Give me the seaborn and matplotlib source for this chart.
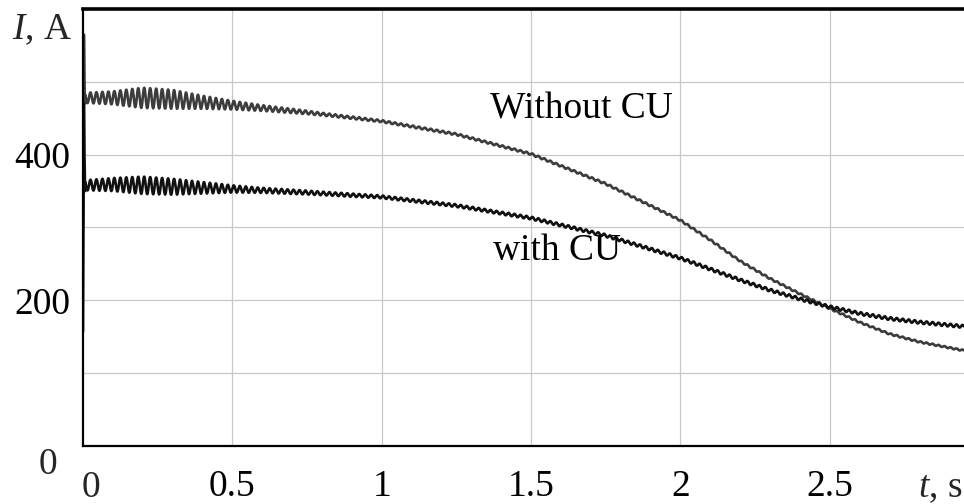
import numpy as np
import pandas as pd
import matplotlib
matplotlib.use("Agg")
import matplotlib.pyplot as plt
import seaborn as sns

# ---- values ----
knot_t = [0.008, 0.1, 0.2, 0.3, 0.5, 0.75, 1.0, 1.25, 1.5, 1.75, 2.0, 2.1, 2.2, 2.3, 2.4, 2.5, 2.6, 2.7, 2.8, 2.95]
without_cu_mean = [478, 478, 478, 476, 468, 458, 446, 428, 401, 360, 310, 283, 254, 230, 209, 189, 170, 154, 143, 131]
with_cu_mean = [358, 359, 358, 356, 353, 348, 342, 330, 313, 289, 258, 243, 228, 214, 202, 191, 182, 175, 170, 164]

ripple_t = [0.008, 0.1, 0.2, 0.3, 0.4, 0.5, 0.6, 0.8, 1.0, 2.95]
without_cu_ripple = [7, 9, 14, 13, 9, 6, 4, 2, 1.5, 1.0]
with_cu_ripple = [7, 9, 12, 11, 8, 5, 3.5, 2.5, 2.0, 2.0]
ripple_hz = 50

without_spike_t = [0.0, 0.003, 0.006]
without_spike_i = [300, 565, 470]
with_spike_t = [0.0, 0.003, 0.005, 0.007]
with_spike_i = [157, 470, 400, 350]

x_ticks = [0.5, 1, 1.5, 2, 2.5]
x_tick_labels = ["0.5", "1", "1.5", "2", "2.5"]
y_grid = [100, 200, 300, 400, 500]
y_tick_labels = ["", "200", "", "400", ""]

# ---- build series ----
tt = np.arange(0.008, 2.95, 0.0005)
def series(mean, rip, st, si):
    v = np.interp(tt, knot_t, mean) + np.interp(tt, ripple_t, rip) * np.sin(2 * np.pi * ripple_hz * tt)
    t = np.concatenate([st, tt])
    i = np.concatenate([si, v])
    return pd.DataFrame({"t": t, "I": i})

df_wo = series(without_cu_mean, without_cu_ripple, without_spike_t, without_spike_i)
df_w = series(with_cu_mean, with_cu_ripple, with_spike_t, with_spike_i)

sns.set_theme(style="white")
plt.rcParams["font.family"] = ["Liberation Serif", "DejaVu Serif"]
plt.rcParams["mathtext.fontset"] = "custom"
plt.rcParams["mathtext.rm"] = "Liberation Serif"
plt.rcParams["mathtext.it"] = "Liberation Serif:italic"

FS = 27
W, H = 964, 504
fig = plt.figure(figsize=(W / 100, H / 100), dpi=100)
ax = fig.add_axes([83 / W, 1 - 446 / H, (W - 83) / W, (446 - 9) / H])

sns.lineplot(data=df_wo, x="t", y="I", ax=ax, color="#3c3c3c", lw=1.9,
             estimator=None, sort=False)
sns.lineplot(data=df_w, x="t", y="I", ax=ax, color="#111111", lw=1.9,
             estimator=None, sort=False)

ax.set_xlim(0, 2.95)
ax.set_ylim(0, 600)
ax.set_xticks(x_ticks)
ax.set_xticklabels(x_tick_labels)
ax.set_yticks(y_grid)
ax.set_yticklabels(y_tick_labels)
ax.grid(True, color="#c8c8c8", lw=0.9)
ax.set_axisbelow(True)
ax.tick_params(axis="both", length=0, labelsize=FS, labelcolor="black")
ax.tick_params(axis="x", pad=17)
ax.tick_params(axis="y", pad=9)
ax.set_xlabel("")
ax.set_ylabel("")

ax.spines["right"].set_visible(False)
ax.spines["top"].set_linewidth(2.6)
ax.spines["left"].set_linewidth(1.6)
ax.spines["bottom"].set_linewidth(1.6)
for s in ["top", "left", "bottom"]:
    ax.spines[s].set_color("black")

ax.text(1.363, 449, "Without CU", fontsize=FS, ha="left", va="baseline", color="black")
ax.text(1.372, 255, "with CU", fontsize=FS, ha="left", va="baseline", color="black")

fig.text(12 / W, 1 - 39 / H, r"$I$, A", fontsize=FS, ha="left", va="baseline")
fig.text(57 / W, 1 - 465 / H, "0", fontsize=FS, ha="right", va="center")
fig.text(91 / W, 1 - 488 / H, "0", fontsize=FS, ha="center", va="center")
fig.text(962 / W, 1 - 488 / H, r"$t$, s", fontsize=FS, ha="right", va="center")

fig.savefig("out.png", dpi=100)
